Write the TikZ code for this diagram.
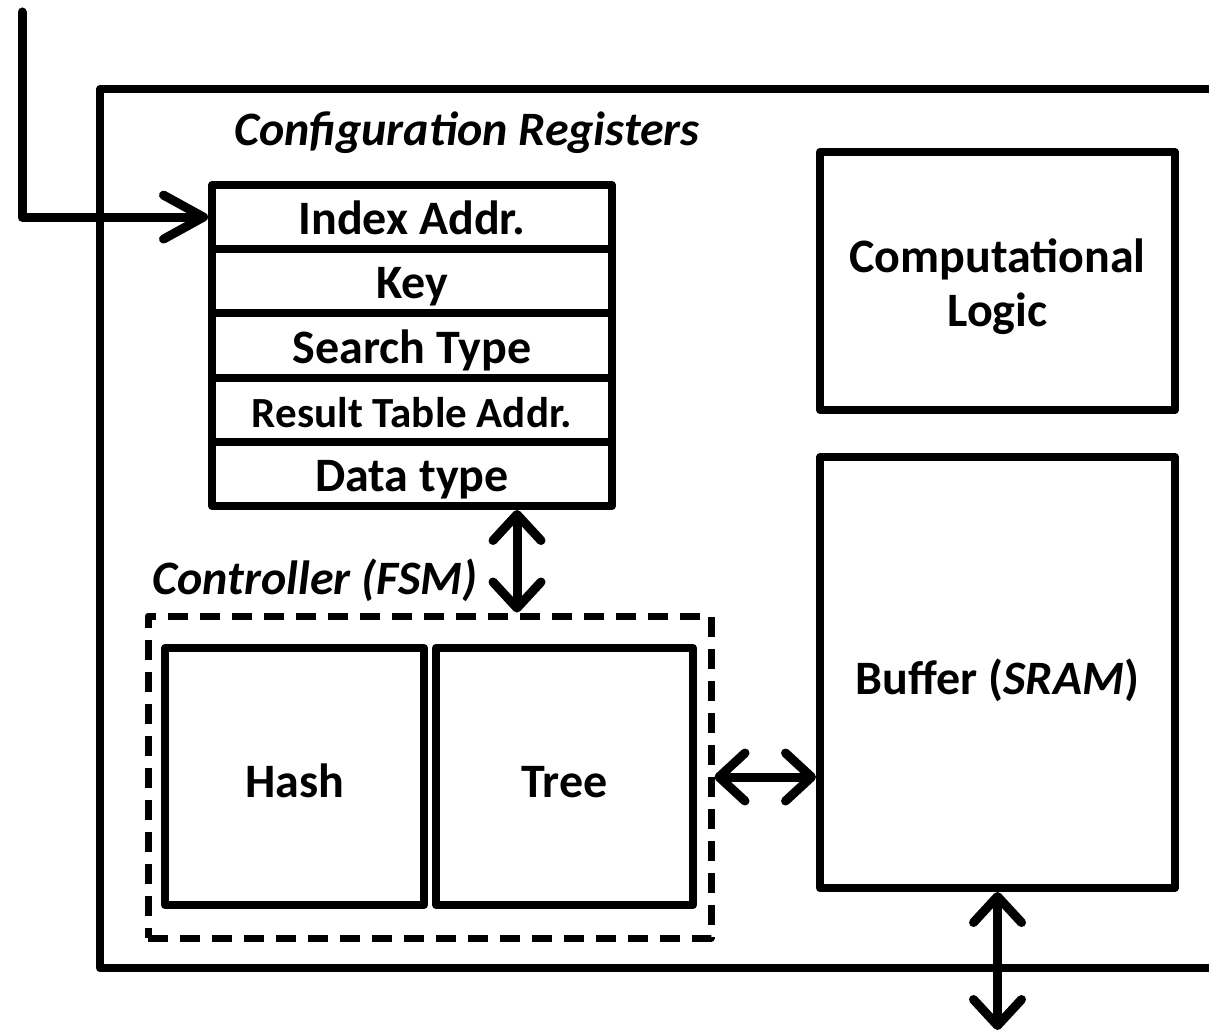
\documentclass[tikz,border=0pt]{standalone}
\usepackage{fontspec}
\setmainfont{Carlito}
\usetikzlibrary{arrows.meta,positioning,calc}

\begin{document}
\begin{tikzpicture}[x=0.5pt,y=-0.5pt,line width=4pt,line join=round,
    box/.style={draw,rectangle,inner sep=0pt,align=center,font=\bfseries\fontsize{24}{27}\selectfont},
    regbox/.style={box,minimum width=200pt,minimum height=32.1pt,text height=23pt,text depth=5.5pt},
    title/.style={font=\bfseries\itshape\fontsize{24}{26}\selectfont},
    barb/.tip={Straight Barb[length=13pt,width=24pt,round]},
    both/.style={barb-barb,line width=4.5pt}]
        \useasboundingbox (0,0) rectangle (1209,1032);

        % Outer unit
        \draw (100,89) rectangle (1230,968);

        % Configuration registers
        \node[title] (cfglabel) at (467,133) {Configuration Registers};
        \foreach \t [count=\i] in {Index Addr.,Key,Search Type,,Data type} {
            \node[regbox] (reg\i) at (412,{217.1+64.2*(\i-1)}) {\t};
        }
        \node[regbox,font=\bfseries\fontsize{21.5}{23}\selectfont] (reg4) at (412,409.7) {Result Table Addr.};

        % Computational logic and buffer
        \node[box,minimum width=177.5pt,minimum height=129pt,text height=50pt,text depth=5pt] (logic) at (997.5,281) {Computational\\Logic};
        \node[box,minimum width=177.5pt,minimum height=215.5pt,text height=24pt,text depth=2pt] (buf) at (997.5,672.5) {Buffer (\textit{SRAM})};

        % Controller
        \node[title] (ctrllabel) at (315,580) {Controller (FSM)};
        \node[draw,dashed,dash pattern=on 10pt off 6pt,line width=3.5pt,minimum width=281.5pt,minimum height=161pt] (ctrl) at (429.5,777) {};
        \node[box,minimum width=129.5pt,minimum height=128.5pt,text height=24pt,text depth=3.5pt] (hash) at (294.5,776.5) {Hash};
        \node[box,minimum width=128.5pt,minimum height=128.5pt,text height=24pt,text depth=3.5pt] (tree) at (564.5,776.5) {Tree};

        % Connections
        \coordinate (in) at (22,12);
        \coordinate (out) at (997.5,1030);
        \draw[line width=4.5pt,line cap=round,-{Straight Barb[length=20pt,width=22pt,round]}] (in) |- (reg1.west);
        \draw[both] ([xshift=52.5pt]reg5.south) -- ([xshift=52.5pt]reg5.south |- ctrl.north);
        \draw[both] (ctrl.east) -- (ctrl.east -| buf.west);
        \draw[both] (buf.south) -- (out);
\end{tikzpicture}
\end{document}
